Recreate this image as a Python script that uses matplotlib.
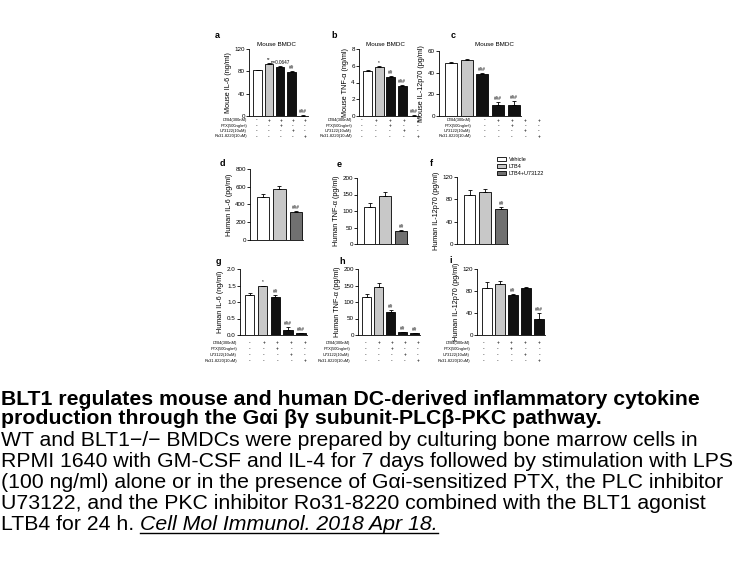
import numpy as np
import matplotlib
matplotlib.use("Agg")
import matplotlib.pyplot as plt
from matplotlib.patches import Patch

plt.rcParams['font.family'] = ['Liberation Sans', 'DejaVu Sans']

W, H = 756, 567

# ---------------- data ----------------
treat_names = ["LTB4(300nM)", "PTX(500ng/ml)", "U73122(10uM)", "Ro31-8220(10uM)"]
treat_signs = [["-", "+", "+", "+", "+"],
               ["-", "-", "+", "-", "-"],
               ["-", "-", "-", "+", "-"],
               ["-", "-", "-", "-", "+"]]

mouse_il6 = [82, 93, 88, 78, 0.8]
mouse_il6_err = [1.0, 1.5, 1.5, 2.0, 0.3]
mouse_il6_marks = ["", "**", "p=0.0647", "##", "###"]

mouse_tnf = [5.35, 5.85, 4.65, 3.6, 0.05]
mouse_tnf_err = [0.15, 0.1, 0.15, 0.15, 0.02]
mouse_tnf_marks = ["", "*", "##", "###", "###"]

mouse_il12 = [49, 51.5, 38.5, 10, 10.5]
mouse_il12_err = [1.2, 1.0, 1.0, 2.5, 3.0]
mouse_il12_marks = ["", "", "###", "###", "###"]

human_il6_lps = [490, 575, 320]
human_il6_lps_err = [30, 30, 10]
human_il6_lps_marks = ["", "", "###"]

human_tnf_lps = [113, 145, 40]
human_tnf_lps_err = [12, 13, 2]
human_tnf_lps_marks = ["", "", "##"]

human_il12_lps = [87, 94, 63]
human_il12_lps_err = [9, 4, 4]
human_il12_lps_marks = ["", "", "##"]

human_il6 = [1.2, 1.47, 1.15, 0.15, 0.05]
human_il6_err = [0.07, 0.03, 0.05, 0.08, 0.02]
human_il6_marks = ["", "*", "##", "###", "###"]

human_tnf = [115, 145, 70, 8, 5]
human_tnf_err = [10, 13, 5, 2, 1]
human_tnf_marks = ["", "", "##", "##", "##"]

human_il12 = [86, 93, 72, 86, 30]
human_il12_err = [10, 6, 3, 1, 10]
human_il12_marks = ["", "", "##", "", "###"]

legend_labels = ["Vehicle", "LTB4", "LTB4+U73122"]
panel_title = "Mouse BMDC"

caption_bold = ["BLT1 regulates mouse and human DC-derived inflammatory cytokine",
                "production through the G\u03b1i \u03b2\u03b3 subunit-PLC\u03b2-PKC pathway."]
caption_text = ["WT and BLT1\u2212/\u2212 BMDCs were prepared by culturing bone marrow cells in",
                "RPMI 1640 with GM-CSF and IL-4 for 7 days followed by stimulation with LPS",
                "(100 ng/ml) alone or in the presence of G\u03b1i-sensitized PTX, the PLC inhibitor",
                "U73122, and the PKC inhibitor Ro31-8220 combined with the BLT1 agonist"]
caption_last = "LTB4 for 24 h. "
citation = "Cell Mol Immunol. 2018 Apr 18."

WHITE, LGRAY, BLACK, DGRAY = "white", "#c8c8c8", "#111111", "#707070"
five_colors = [WHITE, LGRAY, BLACK, BLACK, BLACK]
three_colors = [WHITE, LGRAY, DGRAY]

fig = plt.figure(figsize=(W / 100, H / 100), dpi=100)


def box(l, t, r, b):
    return [l / W, 1 - b / H, (r - l) / W, (b - t) / H]


def ftext(x, y, s, **kw):
    # text placed in figure pixels, y measured from the top
    return fig.text(x / W, 1 - y / H, s, **kw)


def panel(letter, rect, vals, errs, marks, colors, ylim, yticks, ylabel,
          letter_xy, title_x=None, table=None, fmt="{:g}", xlim=None):
    ax = fig.add_axes(box(*rect))
    x = np.arange(len(vals))
    ax.bar(x, vals, width=0.75, color=colors, edgecolor="black", linewidth=0.6, zorder=2)
    ax.errorbar(x, vals, yerr=[np.zeros(len(vals)), errs], fmt="none",
                ecolor="black", elinewidth=0.6, capsize=1.5, capthick=0.6, zorder=3)
    span = ylim[1] - ylim[0]
    for xi, v, e, m in zip(x, vals, errs, marks):
        if m:
            ax.text(xi, v + e + span * 0.015, m, ha="center", va="bottom",
                    fontsize=3.3, color="black")
    ax.set_ylim(*ylim)
    ax.set_xlim(*xlim)
    ax.set_yticks(yticks)
    ax.set_yticklabels([fmt.format(t) for t in yticks], fontsize=4.5)
    ax.set_xticks([])
    for s in ["top", "right"]:
        ax.spines[s].set_visible(False)
    for s in ["left", "bottom"]:
        ax.spines[s].set_linewidth(0.6)
    ax.tick_params(axis="y", length=2, width=0.6, pad=1)
    ax.set_ylabel(ylabel, fontsize=5.2, labelpad=2)
    ftext(*letter_xy, letter, fontsize=6.5, fontweight="bold", ha="center", va="center")
    if title_x:
        ftext(title_x, 44, panel_title, fontsize=4.5, ha="center", va="center")
    if table:
        lab_right, first, pitch, rows_y = table
        for name, signs, yy in zip(treat_names, treat_signs, rows_y):
            ftext(lab_right, yy, name, ha="right", va="center", fontsize=2.9)
            for k, sg in enumerate(signs):
                ftext(first + k * pitch, yy, sg, ha="center", va="center", fontsize=3.4)
    return ax


rows_top = [120, 125.5, 131, 136.5]
rows_bot = [343, 349, 355, 361]
xl5 = (-0.75, 4.45)
xl3 = (-0.79, 2.43)

panel("a", (249, 49, 308, 116), mouse_il6, mouse_il6_err, mouse_il6_marks,
      five_colors, (0, 120), [0, 40, 80, 120], "Mouse IL-6 (ng/ml)",
      (217, 36), 276, (247, 257, 12, rows_top), xlim=xl5)
panel("b", (359, 49, 419, 116), mouse_tnf, mouse_tnf_err, mouse_tnf_marks,
      five_colors, (0, 8), [0, 2, 4, 6, 8], "Mouse TNF-\u03b1 (ng/ml)",
      (334, 35), 385, (352, 362, 14, rows_top), xlim=xl5)
panel("c", (439, 51, 521, 116), mouse_il12, mouse_il12_err, mouse_il12_marks,
      five_colors, (0, 60), [0, 20, 40, 60], "Mouse IL-12p70 (pg/ml)",
      (453, 35), 494, (471, 485, 13.5, rows_top), xlim=xl5)

panel("d", (250, 169, 303, 240), human_il6_lps, human_il6_lps_err, human_il6_lps_marks,
      three_colors, (0, 800), [0, 200, 400, 600, 800], "Human IL-6 (pg/ml)",
      (222, 164), xlim=xl3)
panel("e", (357, 178, 408, 244), human_tnf_lps, human_tnf_lps_err, human_tnf_lps_marks,
      three_colors, (0, 200), [0, 50, 100, 150, 200], "Human TNF-\u03b1 (pg/ml)",
      (339, 165), xlim=xl3)
panel("f", (457, 177, 508, 244), human_il12_lps, human_il12_lps_err, human_il12_lps_marks,
      three_colors, (0, 120), [0, 40, 80, 120], "Human IL-12p70 (pg/ml)",
      (431, 164), xlim=xl3)

handles = [Patch(facecolor=c, edgecolor="black", linewidth=0.6) for c in three_colors]
fig.legend(handles, legend_labels, loc="upper left",
           bbox_to_anchor=(497 / W, 1 - 157 / H), fontsize=4, frameon=False,
           handlelength=1.6, handleheight=0.8, labelspacing=0.35, handletextpad=0.5,
           borderaxespad=0, borderpad=0)

panel("g", (240, 269, 307, 335), human_il6, human_il6_err, human_il6_marks,
      five_colors, (0, 2.0), [0.0, 0.5, 1.0, 1.5, 2.0], "Human IL-6 (ng/ml)",
      (218, 262), table=(237, 250, 13.7, rows_bot), fmt="{:.1f}", xlim=xl5)
panel("h", (358, 269, 420, 335), human_tnf, human_tnf_err, human_tnf_marks,
      five_colors, (0, 200), [0, 50, 100, 150, 200], "Human TNF-\u03b1 (pg/ml)",
      (342, 262), table=(350, 366, 13, rows_bot), xlim=xl5)
panel("i", (477, 269, 545, 335), human_il12, human_il12_err, human_il12_marks,
      five_colors, (0, 120), [0, 40, 80, 120], "Human IL-12p70 (pg/ml)",
      (451, 261), table=(470, 484, 13.8, rows_bot), xlim=xl5)

# ---------------- caption ----------------
cap_fs = 15.3
baselines = [405, 424, 446, 467, 488, 509, 530]
for line, yb in zip(caption_bold, baselines[:2]):
    ftext(1, yb, line, fontsize=cap_fs, fontweight="bold", ha="left", va="baseline")
for line, yb in zip(caption_text, baselines[2:6]):
    ftext(1, yb, line, fontsize=cap_fs, ha="left", va="baseline")

t_last = ftext(1, baselines[6], caption_last, fontsize=cap_fs, ha="left", va="baseline")
renderer = fig.canvas.get_renderer()
bb = t_last.get_window_extent(renderer)
t_cit = ftext(bb.x1, baselines[6], citation, fontsize=cap_fs, style="italic",
              ha="left", va="baseline")
bb2 = t_cit.get_window_extent(renderer)
uy = 1 - (baselines[6] + 2.5) / H
fig.add_artist(plt.Line2D([bb2.x0 / W, bb2.x1 / W], [uy, uy], color="black",
                          linewidth=1.0, transform=fig.transFigure))

fig.savefig("out.png", dpi=100)
